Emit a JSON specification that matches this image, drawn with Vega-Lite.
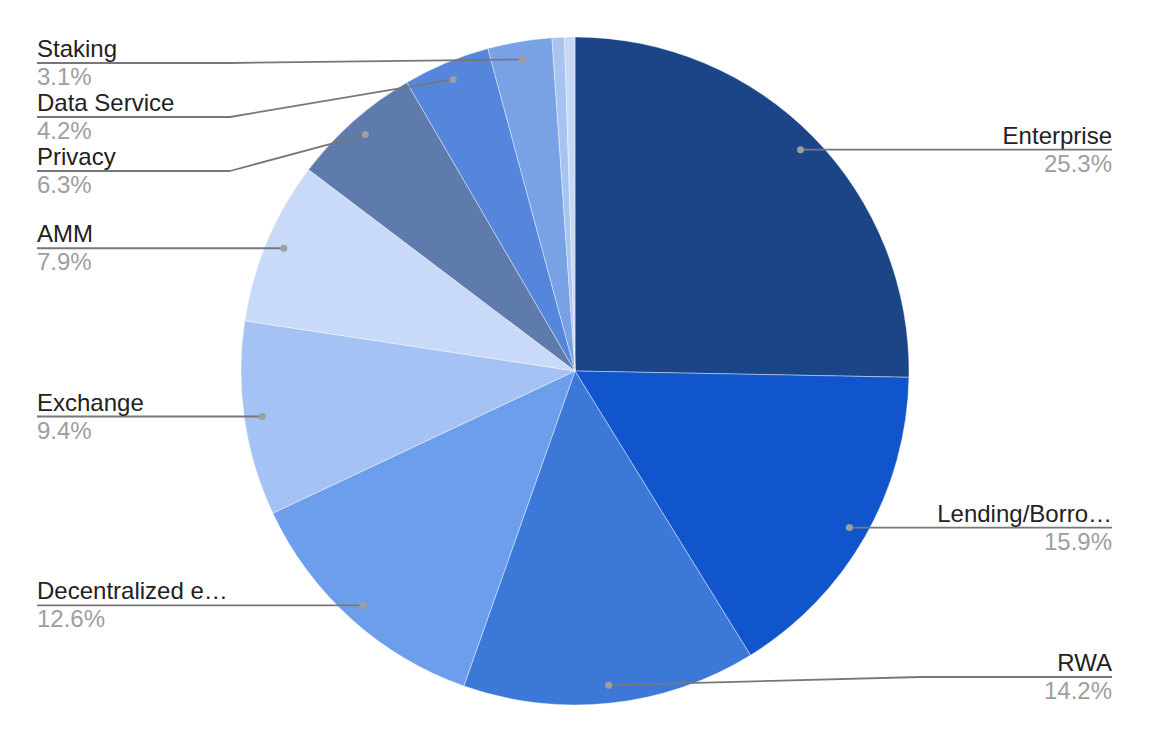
{
  "$schema": "https://vega.github.io/schema/vega-lite/v6.json",
  "width": 1150,
  "height": 742,
  "padding": 0,
  "autosize": {"type": "none"},
  "background": "white",
  "config": {"view": {"stroke": null}},
  "data": {
    "values": [
      {"name": "Enterprise", "value": 25.3},
      {"name": "Lending/Borro…", "value": 15.9},
      {"name": "RWA", "value": 14.2},
      {"name": "Decentralized e…", "value": 12.6},
      {"name": "Exchange", "value": 9.4},
      {"name": "AMM", "value": 7.9},
      {"name": "Privacy", "value": 6.3},
      {"name": "Data Service", "value": 4.2},
      {"name": "Staking", "value": 3.1},
      {"name": "Other 1", "value": 0.6},
      {"name": "Other 2", "value": 0.5}
    ]
  },
  "transform": [
    {"window": [{"op": "row_number", "as": "idx"}, {"op": "sum", "field": "value", "as": "cum"}], "frame": [null, 0]},
    {"joinaggregate": [{"op": "sum", "field": "value", "as": "total"}]},
    {"calculate": "2*PI*(datum.cum - datum.value/2)/datum.total", "as": "a"},
    {"calculate": "316*sin(datum.a)", "as": "dotX"},
    {"calculate": "-316*cos(datum.a)", "as": "dotS"},
    {"calculate": "datum.dotX >= 0 ? 'R' : 'L'", "as": "side"},
    {"calculate": "datum.value >= 1", "as": "labeled"},
    {"calculate": "clamp(datum.dotS, -308, 306)", "as": "sc"},
    {"window": [{"op": "row_number", "as": "i"}], "groupby": ["side", "labeled"], "sort": [{"field": "dotS", "order": "ascending"}]},
    {"calculate": "datum.sc - 54*(datum.i-1)", "as": "v"},
    {"window": [{"op": "max", "field": "v", "as": "vm"}], "groupby": ["side", "labeled"], "sort": [{"field": "dotS", "order": "ascending"}], "frame": [null, 0]},
    {"calculate": "datum.vm + 54*(datum.i-1)", "as": "labelS"},
    {"calculate": "datum.side == 'R' ? 345 : -345", "as": "elbowX"},
    {"calculate": "datum.side == 'R' ? 537 : -538", "as": "endX"},
    {"calculate": "format(datum.value, '.1f') + '%'", "as": "pct"}
  ],
  "layer": [
    {
      "mark": {"type": "arc", "outerRadius": 334, "stroke": "white", "strokeWidth": 0.5, "strokeOpacity": 0.8},
      "encoding": {
        "theta": {"field": "value", "type": "quantitative", "stack": true},
        "order": {"field": "idx", "type": "quantitative"},
        "color": {
          "field": "name",
          "type": "nominal",
          "legend": null,
          "scale": {
            "domain": ["Enterprise", "Lending/Borro…", "RWA", "Decentralized e…", "Exchange", "AMM", "Privacy", "Data Service", "Staking", "Other 1", "Other 2"],
            "range": ["#1c4587", "#1155cc", "#3c78d8", "#6d9eeb", "#a4c2f4", "#c9daf8", "#5f7bab", "#5586dc", "#78a1e6", "#a7c3f0", "#c6d8f6"]
          }
        }
      }
    },
    {
      "transform": [{"filter": "datum.labeled"}],
      "mark": {"type": "rule", "color": "#777777", "strokeWidth": 1.8},
      "encoding": {
        "x": {"field": "dotX", "type": "quantitative", "axis": null, "scale": {"domain": [-575, 575], "nice": false, "zero": false}},
        "y": {"field": "dotS", "type": "quantitative", "axis": null, "scale": {"domain": [-371, 371], "reverse": true, "nice": false, "zero": false}},
        "x2": {"field": "elbowX"},
        "y2": {"field": "labelS"}
      }
    },
    {
      "transform": [{"filter": "datum.labeled"}],
      "mark": {"type": "rule", "color": "#777777", "strokeWidth": 1.8},
      "encoding": {
        "x": {"field": "elbowX", "type": "quantitative"},
        "y": {"field": "labelS", "type": "quantitative"},
        "x2": {"field": "endX"}
      }
    },
    {
      "transform": [{"filter": "datum.labeled"}],
      "mark": {"type": "point", "filled": true, "color": "#9e9e9e", "opacity": 1, "size": 50},
      "encoding": {
        "x": {"field": "dotX", "type": "quantitative"},
        "y": {"field": "dotS", "type": "quantitative"}
      }
    },
    {
      "transform": [{"filter": "datum.labeled && datum.side == 'L'"}],
      "mark": {"type": "text", "align": "left", "baseline": "alphabetic", "dy": -6, "font": "Liberation Sans", "fontSize": 24, "color": "#222222"},
      "encoding": {
        "x": {"field": "endX", "type": "quantitative"},
        "y": {"field": "labelS", "type": "quantitative"},
        "text": {"field": "name"}
      }
    },
    {
      "transform": [{"filter": "datum.labeled && datum.side == 'L'"}],
      "mark": {"type": "text", "align": "left", "baseline": "alphabetic", "dy": 22, "font": "Liberation Sans", "fontSize": 24, "color": "#9e9e9e"},
      "encoding": {
        "x": {"field": "endX", "type": "quantitative"},
        "y": {"field": "labelS", "type": "quantitative"},
        "text": {"field": "pct"}
      }
    },
    {
      "transform": [{"filter": "datum.labeled && datum.side == 'R'"}],
      "mark": {"type": "text", "align": "right", "baseline": "alphabetic", "dy": -6, "font": "Liberation Sans", "fontSize": 24, "color": "#222222"},
      "encoding": {
        "x": {"field": "endX", "type": "quantitative"},
        "y": {"field": "labelS", "type": "quantitative"},
        "text": {"field": "name"}
      }
    },
    {
      "transform": [{"filter": "datum.labeled && datum.side == 'R'"}],
      "mark": {"type": "text", "align": "right", "baseline": "alphabetic", "dy": 22, "font": "Liberation Sans", "fontSize": 24, "color": "#9e9e9e"},
      "encoding": {
        "x": {"field": "endX", "type": "quantitative"},
        "y": {"field": "labelS", "type": "quantitative"},
        "text": {"field": "pct"}
      }
    }
  ]
}
